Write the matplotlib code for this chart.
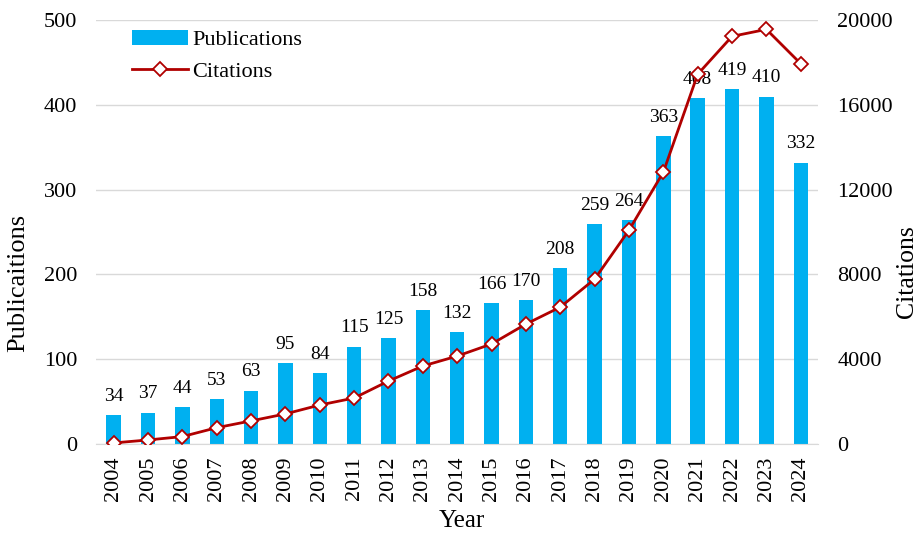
import numpy as np
import matplotlib
matplotlib.use("Agg")
import matplotlib.pyplot as plt

years = [str(y) for y in range(2004, 2025)]
publications = [34, 37, 44, 53, 63, 95, 84, 115, 125, 158, 132, 166, 170, 208,
                259, 264, 363, 408, 419, 410, 332]
citations = [50, 190, 350, 770, 1090, 1420, 1840, 2170, 2970, 3680, 4150, 4720,
             5660, 6460, 7780, 10090, 12830, 17450, 19240, 19570, 17950]

plt.rcParams.update({
    "font.family": "serif",
    "font.serif": ["Liberation Serif", "DejaVu Serif"],
    "font.size": 16,
})

fig, ax = plt.subplots(figsize=(9.19, 5.33), dpi=100)
fig.subplots_adjust(left=0.105, right=0.89, top=0.962, bottom=0.167)

x = np.arange(len(years))
bars = ax.bar(x, publications, width=0.42, color="#00B0F0", label="Publications", zorder=2)
for xi, v in zip(x, publications):
    ax.text(xi, v + 12, str(v), ha="center", va="bottom", fontsize=14)

ax.set_xlim(-0.5, len(years) - 0.5)
ax.set_ylim(0, 500)
ax.set_yticks(range(0, 501, 100))
ax.set_xticks(x)
ax.set_xticklabels(years, rotation=90)
ax.set_xlabel("Year", fontsize=18, labelpad=8)
ax.xaxis.set_label_coords(0.507, -0.155)
ax.xaxis.label.set_va("top")
ax.set_ylabel("Publicaitions", fontsize=19)
ax.yaxis.set_label_coords(-0.093, 0.38)
ax.grid(axis="y", color="#D9D9D9", linewidth=1, zorder=0)
ax.set_axisbelow(True)
for s in ["top", "left", "right"]:
    ax.spines[s].set_visible(False)
ax.spines["bottom"].set_color("#D9D9D9")
ax.tick_params(axis="y", length=0, pad=14)
ax.tick_params(axis="x", length=0, pad=9)

ax2 = ax.twinx()
line, = ax2.plot(x, citations, color="#B00000", linewidth=2, marker="D", markersize=7,
                 markerfacecolor="white", markeredgecolor="#B00000", markeredgewidth=1.3,
                 label="Citations", zorder=3)
ax2.set_ylim(0, 20000)
ax2.set_yticks(range(0, 20001, 4000))
ax2.set_ylabel("Citations", fontsize=18.5)
ax2.yaxis.set_label_coords(1.108, 0.406)
for s in ["top", "left", "right", "bottom"]:
    ax2.spines[s].set_visible(False)
ax2.tick_params(axis="y", length=0, pad=14)

ax.legend([bars, line], ["Publications", "Citations"], loc="upper left",
          bbox_to_anchor=(0.022, 1.025), frameon=False, fontsize=16,
          handlelength=2.5, handletextpad=0.2, labelspacing=0.5)

fig.savefig("out.png", dpi=100)
